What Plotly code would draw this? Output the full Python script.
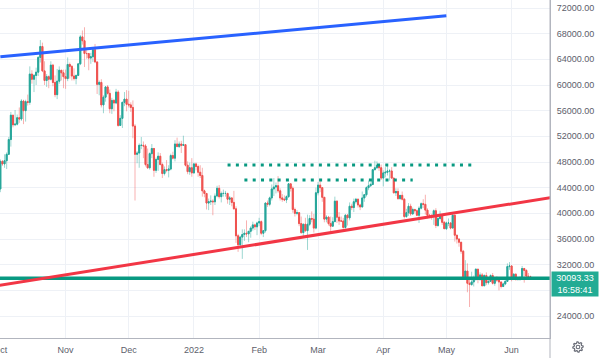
import math
import pandas as pd
import plotly.graph_objects as go

# ---- daily BTC candles (thousands USD), 2021-10-01 .. 2022-06-10 ----
first_open = 43.8
closes = [
    48.1,47.7,48.2,49.2,51.5,55.3,53.8,53.9,54.9,54.7,57.5,56.0,57.4,57.3,61.7,60.9,61.5,62.0,64.3,66.0,62.2,60.7,61.3,60.9,63.1,60.4,58.5,60.6,62.3,61.9,61.3,
    61.0,63.2,62.9,61.4,61.0,61.5,63.3,67.5,66.9,64.9,64.9,64.2,64.4,65.5,63.6,60.1,60.4,56.9,58.1,59.7,58.7,56.3,57.6,57.2,58.9,53.7,54.8,57.3,57.8,57.0,
    56.9,56.5,53.6,49.2,49.4,50.6,50.6,50.5,47.6,47.1,49.3,50.1,46.7,48.4,48.9,47.6,46.2,46.8,46.7,46.9,49.0,48.6,50.8,50.4,50.8,50.6,50.7,47.5,46.5,47.1,46.3,
    47.7,47.3,46.4,45.9,43.5,43.1,41.6,41.8,41.9,41.8,42.7,43.9,42.6,43.1,43.1,43.1,42.2,42.4,41.7,40.7,36.5,35.1,36.3,36.7,36.9,36.8,37.2,37.7,38.2,37.9,38.5,
    38.7,36.9,37.3,41.6,41.4,42.4,43.8,44.1,44.3,43.5,42.4,42.2,42.1,42.6,44.6,43.9,40.6,40.0,40.1,38.4,37.0,38.3,37.3,38.3,39.2,39.1,37.7,43.2,
    44.4,44.0,42.5,39.1,39.4,38.4,38.0,38.7,41.9,39.4,38.8,38.8,37.8,39.7,39.3,41.1,40.9,41.8,42.2,41.3,41.0,42.4,42.9,44.0,44.3,44.5,46.8,47.1,47.5,47.1,45.5,
    46.3,46.4,46.6,46.6,45.5,43.2,43.4,42.3,42.8,42.2,39.5,40.1,41.1,39.9,40.6,40.4,39.7,40.8,41.5,41.4,40.5,39.7,39.5,39.5,40.4,38.1,39.2,39.7,38.6,37.6,
    38.5,38.5,37.7,39.7,36.6,36.0,35.5,34.1,30.1,31.0,29.1,28.9,29.3,29.9,31.3,29.9,30.4,28.7,30.3,29.2,29.4,30.3,29.1,29.7,29.6,29.3,28.6,29.0,29.4,31.7,31.8,
    29.8,30.5,29.7,29.9,29.9,31.4,31.1,30.2,30.1,30.09333,
]
highs = [
    48.4,48.3,49.2,49.5,51.9,55.8,55.3,56.1,55.4,56.5,57.8,57.7,57.7,58.5,62.9,62.3,61.7,62.7,64.5,67.0,66.6,63.7,61.7,61.5,63.7,63.3,61.5,62.5,62.9,62.3,62.4,
    62.4,64.3,63.5,63.1,62.6,61.6,63.3,67.8,68.5,69.0,65.6,65.0,65.0,65.5,66.4,63.6,60.7,60.9,58.4,59.8,60.0,59.3,58.0,57.8,59.4,59.2,55.3,57.4,58.9,59.2,
    59.1,57.3,57.6,53.9,49.7,50.9,51.9,51.2,50.8,50.1,49.5,50.8,50.2,48.7,49.5,49.4,47.9,47.3,48.3,47.5,49.3,49.6,51.4,51.8,51.2,51.3,52.1,50.7,48.1,47.9,48.6,
    47.9,47.9,47.6,47.5,47.1,43.7,43.1,42.3,42.8,42.2,43.1,44.3,44.4,43.4,43.7,43.5,43.2,42.7,42.5,43.5,41.1,36.8,36.5,37.5,37.5,38.9,37.2,38.0,38.7,38.4,38.7,
    39.3,38.9,37.4,41.7,42.0,42.6,44.5,45.5,44.8,45.8,43.9,43.0,42.8,42.8,44.7,44.6,44.2,40.9,40.5,40.2,39.5,38.4,39.3,39.8,39.7,40.3,39.9,44.0,
    44.9,45.4,44.1,42.5,39.7,39.6,39.5,39.4,42.6,42.0,40.2,39.5,39.3,39.9,39.9,41.7,41.5,42.3,42.4,42.3,41.5,43.4,43.0,44.2,45.1,44.8,46.9,48.2,48.1,47.7,47.6,
    46.7,47.2,47.4,46.9,47.2,45.5,43.9,43.9,42.8,43.4,42.4,40.7,41.6,41.5,40.9,40.7,40.6,41.1,41.7,42.2,42.9,40.8,39.9,39.9,40.6,40.8,39.5,40.4,39.9,38.8,
    38.7,39.2,38.6,40.0,39.8,36.6,36.1,35.5,34.3,32.7,32.2,30.0,30.9,30.3,31.4,31.3,30.8,30.7,30.5,30.8,29.6,30.5,30.7,29.8,30.2,29.9,29.4,29.2,29.6,32.2,32.4,
    31.9,30.7,30.7,29.9,30.2,31.8,31.5,31.3,30.7,30.3,
]
lows = [
    43.3,47.4,47.1,46.9,49.1,50.4,53.4,53.6,53.7,54.1,54.4,53.9,54.3,56.8,56.9,60.2,58.9,60.0,61.4,63.5,62.0,60.0,59.7,59.5,60.7,59.8,58.1,57.8,60.2,60.7,59.5,
    59.4,60.6,61.0,60.7,60.7,60.1,61.4,63.1,66.3,62.8,64.1,62.3,63.3,63.6,63.4,58.6,58.4,56.5,55.6,57.4,58.5,55.6,55.5,55.9,57.0,53.5,53.7,53.3,56.7,55.9,
    56.5,55.8,51.7,42.0,47.8,47.1,50.0,48.6,47.3,46.9,46.8,48.6,45.7,46.3,46.6,47.5,45.5,45.9,46.4,45.6,46.7,48.4,48.1,50.4,50.2,49.4,50.5,47.3,46.1,46.0,45.7,
    46.2,46.7,45.7,45.5,42.6,42.5,40.6,40.5,41.3,39.7,41.3,42.5,42.3,41.7,42.6,42.6,41.5,41.3,41.1,40.6,35.4,34.0,34.6,32.9,35.7,36.3,35.5,36.2,37.3,37.4,36.6,
    38.0,36.6,36.3,37.0,41.0,41.1,42.0,42.7,43.1,43.2,42.0,41.8,41.9,41.6,42.4,43.4,40.1,39.5,39.7,38.0,36.8,36.4,37.1,34.3,38.0,38.6,37.0,37.5,
    42.8,43.3,41.8,38.6,38.6,38.1,37.2,37.9,38.7,38.5,38.2,38.7,37.6,37.6,38.1,38.9,40.5,40.2,41.5,40.9,40.5,40.9,41.8,42.6,43.6,44.1,44.4,46.7,46.9,46.6,45.2,
    44.2,45.6,45.9,45.1,45.4,43.1,42.7,42.1,42.1,42.0,39.2,39.3,39.6,39.6,39.8,40.0,39.6,38.5,40.6,40.8,39.8,39.2,39.4,39.0,38.2,37.7,37.9,38.9,38.2,37.6,
    37.4,38.0,37.5,37.7,35.6,35.3,34.8,33.7,30.0,29.7,27.7,25.4,28.7,28.6,29.5,29.1,29.5,28.7,28.7,28.8,28.9,29.3,28.9,28.7,29.3,28.0,28.3,28.5,28.8,29.3,31.2,
    29.4,29.6,29.5,29.5,29.5,29.9,29.2,29.9,30.0,29.9,
]

# ---- drawn lines ----
blue_x = ["2021-10-01", "2022-05-01"]
blue_y = [64400, 70780]
red_x = ["2021-09-30", "2022-06-30"]
red_y = [28735, 42997]
dot_hi_x = ["2022-01-17", "2022-05-14"]
dot_hi_y = [47530, 47530]
dot_lo_x = ["2022-01-25", "2022-04-15"]
dot_lo_y = [45195, 45195]
hline_y = 29870
last_price = 30093.33
countdown = "16:58:41"

# ---- axis ticks ----
x_tickvals = ["2021-10-01", "2021-11-01", "2021-12-01", "2022-01-01", "2022-02-01",
              "2022-03-01", "2022-04-01", "2022-05-01", "2022-06-01"]
x_ticktext = ["Oct", "Nov", "Dec", "2022", "Feb", "Mar", "Apr", "May", "Jun"]
y_tickvals = list(range(24000, 72001, 4000))
y_ticktext = ["" if v == 28000 else f"{v}.00" for v in y_tickvals]

x_range = ["2021-09-30 20:00", "2022-06-19 06:00"]
y_range = [20571, 73247]

UP = "#26a69a"
DOWN = "#ef5350"
UP_WICK = "rgba(38,166,154,0.45)"
DOWN_WICK = "rgba(239,83,80,0.45)"
GRID = "#eef1f6"
AXIS = "#b2b5be"
TXT = "#5d606b"
FONT = "Liberation Sans"

dates = pd.date_range("2021-10-01", periods=len(closes), freq="D")
opens = [first_open] + closes[:-1]
K = 1000
o = [v * K for v in opens]
c = [v * K for v in closes]
h = [v * K for v in highs]
l = [v * K for v in lows]
body_top = [max(a, b) for a, b in zip(o, c)]
body_bot = [min(a, b) for a, b in zip(o, c)]

fig = go.Figure()
# pale wicks
fig.add_trace(go.Candlestick(
    x=dates, open=o, high=h, low=l, close=c,
    increasing=dict(line=dict(color=UP_WICK, width=1), fillcolor=UP_WICK),
    decreasing=dict(line=dict(color=DOWN_WICK, width=1), fillcolor=DOWN_WICK),
    whiskerwidth=0, hoverinfo="skip", showlegend=False,
))
# solid bodies
fig.add_trace(go.Candlestick(
    x=dates, open=o, high=body_top, low=body_bot, close=c,
    increasing=dict(line=dict(color=UP, width=1), fillcolor=UP),
    decreasing=dict(line=dict(color=DOWN, width=1), fillcolor=DOWN),
    whiskerwidth=0, hoverinfo="skip", showlegend=False,
))

fig.add_trace(go.Scatter(x=[x_range[0], x_range[1]], y=[hline_y, hline_y], mode="lines",
                         line=dict(color="#089981", width=3.5), hoverinfo="skip", showlegend=False))
fig.add_trace(go.Scatter(x=blue_x, y=blue_y, mode="lines",
                         line=dict(color="#2962ff", width=3), hoverinfo="skip", showlegend=False))
fig.add_trace(go.Scatter(x=red_x, y=red_y, mode="lines",
                         line=dict(color="#f23645", width=3), hoverinfo="skip", showlegend=False))
fig.add_trace(go.Scatter(x=dot_hi_x, y=dot_hi_y, mode="lines",
                         line=dict(color="#089981", width=3, dash="3px,5.3px"), hoverinfo="skip", showlegend=False))
fig.add_trace(go.Scatter(x=dot_lo_x, y=dot_lo_y, mode="lines",
                         line=dict(color="#089981", width=3, dash="3px,5.3px"), hoverinfo="skip", showlegend=False))

W, H = 604, 358
ML, MR, MT, MB = 0, 54, 0, 20
pw, ph = W - ML - MR, H - MT - MB

# gear icon outline (pixel path)
teeth = 8
pts = []
for i in range(teeth * 4):
    ang = 2 * math.pi * i / (teeth * 4)
    r = 5.2 if (i % 4) in (0, 1) else 3.9
    pts.append((r * math.cos(ang), r * math.sin(ang)))
gear_path = "M " + " L ".join(f"{x:.2f},{y:.2f}" for x, y in pts) + " Z"

fig.update_layout(
    width=W, height=H,
    margin=dict(l=ML, r=MR, t=MT, b=MB, pad=0, autoexpand=False),
    paper_bgcolor="white", plot_bgcolor="white",
    font=dict(family=FONT, size=9, color=TXT),
    showlegend=False,
    xaxis=dict(
        type="date", range=x_range, rangeslider=dict(visible=False),
        tickmode="array", tickvals=x_tickvals, ticktext=x_ticktext,
        ticklabeloverflow="allow", automargin=False,
        showgrid=True, gridcolor=GRID, gridwidth=1,
        showline=True, linecolor=AXIS, linewidth=1,
        ticks="outside", ticklen=3, tickcolor="rgba(0,0,0,0)",
        tickfont=dict(size=9, color=TXT), zeroline=False, fixedrange=True,
    ),
    yaxis=dict(
        side="right", range=y_range, automargin=False,
        tickmode="array", tickvals=y_tickvals, ticktext=y_ticktext,
        showgrid=True, gridcolor=GRID, gridwidth=1,
        showline=True, linecolor=AXIS, linewidth=1,
        ticks="outside", ticklen=4, tickcolor="rgba(0,0,0,0)",
        tickfont=dict(size=9, color=TXT), zeroline=False, fixedrange=True,
    ),
    shapes=[
        dict(type="line", xref="paper", yref="paper", x0=1, x1=1, y0=-MB / ph, y1=1,
             line=dict(color=AXIS, width=1)),
        dict(type="path", xref="paper", yref="paper", xsizemode="pixel", ysizemode="pixel",
             xanchor=1 + 28 / pw, yanchor=-9 / ph, path=gear_path,
             line=dict(color="#6a6d78", width=1.2)),
        dict(type="circle", xref="paper", yref="paper", xsizemode="pixel", ysizemode="pixel",
             xanchor=1 + 28 / pw, yanchor=-9 / ph, x0=-1.8, x1=1.8, y0=-1.8, y1=1.8,
             line=dict(color="#6a6d78", width=1.1)),
    ],
    annotations=[
        dict(xref="paper", yref="y", x=1, y=last_price, xanchor="left", yanchor="top",
             xshift=1, yshift=6, showarrow=False,
             text=f"{last_price:.2f}<br>{countdown}", align="center",
             bgcolor="#22ab94", borderpad=1, width=44,
             font=dict(family=FONT, size=9, color="white")),
    ],
)

fig.write_html("out.html")
